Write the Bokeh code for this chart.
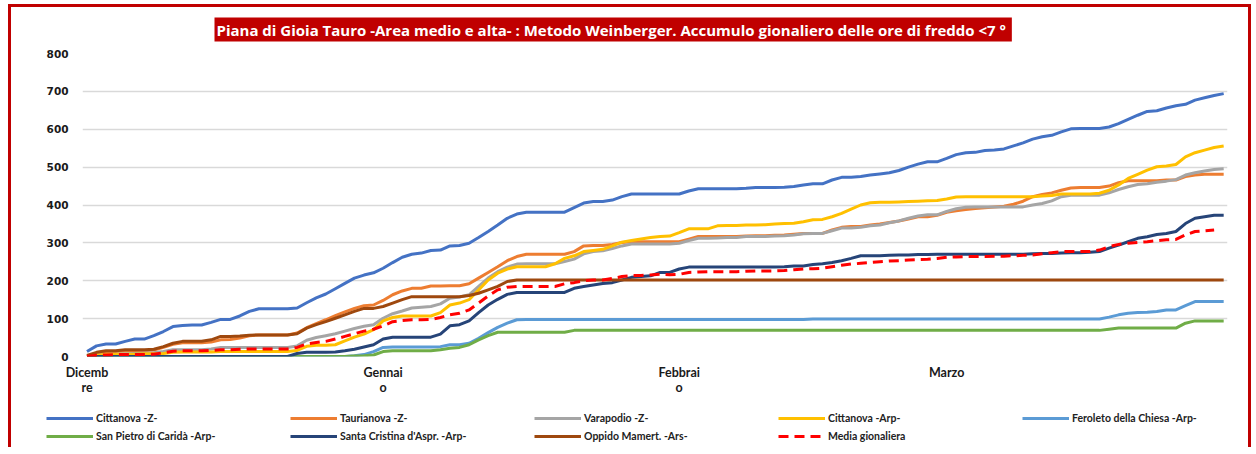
from bokeh.plotting import figure
from bokeh.layouts import column
from bokeh.models import Range1d, FixedTicker, Legend, LegendItem
from bokeh.embed import file_html
from bokeh.resources import INLINE

nan = float("nan")

# giorni dal 1 dicembre (0) al 30 marzo (119)
days = list(range(120))

tick_positions = [0, 31, 62, 90]
tick_labels = ["Dicemb\nre", "Gennai\no", "Febbrai\no", "Marzo"]

cittanova_z = [
    13, 28, 33, 33, 40, 46, 46, 55, 66, 79,
    82, 83, 83, 90, 98, 98, 107, 119, 126, 126,
    126, 126, 128, 142, 155, 165, 179, 193, 207, 215,
    221, 233, 248, 262, 270, 273, 280, 281, 292, 293,
    299, 314, 330, 347, 365, 376, 381, 381, 381, 381,
    381, 393, 405, 409, 409, 413, 422, 429, 429, 429,
    429, 429, 429, 437, 443, 443, 443, 443, 443, 444,
    446, 446, 446, 447, 449, 453, 456, 456, 466, 473,
    473, 475, 479, 482, 485, 491, 500, 508, 514, 514,
    523, 533, 538, 539, 544, 545, 548, 556, 564, 574,
    580, 584, 593, 601, 602, 602, 602, 606, 615, 626,
    637, 647, 649, 656, 662, 666, 677, 683, 689, 694,
]

taurianova_z = [
    1, 8, 12, 13, 15, 15, 15, 17, 24, 32,
    36, 36, 36, 38, 44, 45, 49, 55, 57, 57,
    57, 57, 62, 76, 87, 97, 108, 118, 127, 134,
    136, 148, 163, 173, 180, 180, 186, 186, 187, 187,
    192, 207, 222, 237, 253, 264, 270, 270, 270, 270,
    270, 277, 292, 293, 293, 296, 301, 303, 303, 303,
    303, 303, 303, 310, 317, 317, 317, 317, 317, 318,
    319, 319, 320, 321, 323, 325, 325, 325, 334, 341,
    343, 343, 347, 350, 354, 358, 363, 369, 369, 373,
    381, 385, 388, 391, 393, 395, 397, 402, 410, 422,
    428, 432, 439, 445, 446, 446, 446, 450, 459, 464,
    464, 464, 464, 466, 466, 475, 479, 481, 481, 481,
]

varapodio_z = [
    0, 3, 5, 6, 7, 8, 9, 10, 13, 18,
    18, 18, 18, 20, 24, 24, 24, 24, 24, 24,
    24, 24, 28, 43, 50, 55, 60, 67, 74, 80,
    84, 101, 113, 120, 128, 130, 132, 139, 154, 157,
    163, 185, 207, 224, 236, 244, 245, 245, 245, 245,
    251, 257, 271, 277, 279, 285, 292, 297, 297, 297,
    297, 297, 299, 306, 312, 312, 313, 314, 314, 317,
    317, 317, 318, 319, 321, 324, 325, 325, 332, 339,
    339, 341, 345, 347, 353, 358, 365, 371, 374, 374,
    383, 390, 394, 395, 395, 395, 395, 395, 395, 400,
    404, 411, 422, 426, 426, 426, 426, 432, 441, 448,
    454, 456, 460, 463, 467, 479, 485, 490, 494, 496,
]

cittanova_arp = [
    0, 3, 5, 6, 6, 6, 7, 7, 8, 11,
    12, 12, 12, 12, 13, 13, 13, 13, 13, 13,
    13, 13, 16, 27, 30, 30, 31, 41, 51, 59,
    71, 94, 103, 107, 107, 107, 107, 116, 136, 141,
    150, 176, 202, 220, 231, 237, 237, 237, 237, 245,
    259, 266, 277, 280, 283, 292, 302, 306, 310, 314,
    317, 318, 327, 337, 337, 337, 345, 346, 346, 347,
    347, 348, 350, 351, 352, 356, 361, 362, 369, 378,
    389, 400, 406, 407, 407, 408, 409, 410, 411, 412,
    416, 421, 422, 422, 422, 422, 422, 422, 422, 422,
    424, 425, 429, 429, 429, 429, 431, 439, 453, 470,
    481, 492, 501, 503, 507, 527, 538, 545, 552, 556,
]

feroleto_arp = [
    0, 0, 0, 0, 0, 0, 0, 0, 0, 0,
    0, 0, 0, 0, 0, 0, 0, 0, 0, 0,
    0, 0, 0, 0, 0, 0, 0, 0, 2, 5,
    13, 24, 25, 25, 25, 25, 25, 26, 31, 31,
    35, 48, 63, 77, 88, 97, 98, 98, 98, 98,
    98, 98, 98, 98, 98, 98, 98, 98, 98, 98,
    98, 98, 98, 98, 98, 98, 98, 98, 98, 98,
    98, 98, 98, 98, 98, 98, 99, 99, 99, 99,
    99, 99, 99, 99, 99, 99, 99, 99, 99, 99,
    99, 99, 99, 99, 99, 99, 99, 99, 99, 99,
    99, 99, 99, 99, 99, 99, 99, 104, 110, 114,
    116, 117, 119, 123, 123, 134, 145, 145, 145, 145,
]

san_pietro_arp = [
    0, 0, 0, 0, 0, 0, 0, 0, 0, 0,
    0, 0, 0, 0, 0, 0, 0, 0, 0, 0,
    0, 0, 0, 0, 0, 0, 0, 0, 1, 2,
    4, 13, 15, 15, 15, 15, 15, 18, 22, 24,
    31, 44, 55, 64, 64, 64, 64, 64, 64, 64,
    64, 69, 69, 69, 69, 69, 69, 69, 69, 69,
    69, 69, 69, 69, 69, 69, 69, 69, 69, 69,
    69, 69, 69, 69, 69, 69, 69, 69, 69, 69,
    69, 69, 69, 69, 69, 69, 69, 69, 69, 69,
    69, 69, 69, 69, 69, 69, 69, 69, 69, 69,
    69, 69, 69, 69, 69, 69, 69, 72, 75, 75,
    75, 75, 75, 75, 75, 88, 94, 94, 94, 94,
]

santa_cristina_arp = [
    0, 0, 0, 0, 0, 0, 0, 0, 0, 0,
    0, 0, 0, 0, 0, 0, 0, 0, 0, 0,
    0, 0, 8, 11, 11, 11, 12, 15, 19, 25,
    31, 46, 51, 51, 51, 51, 51, 59, 81, 84,
    94, 116, 136, 151, 164, 169, 169, 169, 169, 169,
    169, 180, 185, 189, 193, 195, 202, 209, 211, 213,
    222, 222, 231, 236, 236, 236, 236, 236, 236, 236,
    236, 236, 236, 237, 239, 239, 243, 245, 248, 253,
    259, 266, 266, 266, 267, 268, 268, 269, 269, 270,
    270, 270, 270, 270, 270, 270, 270, 270, 270, 271,
    272, 272, 273, 274, 274, 275, 277, 286, 294, 303,
    312, 316, 322, 325, 330, 351, 365, 369, 373, 373,
]

oppido_ars = [
    3, 11, 15, 15, 18, 18, 18, 19, 26, 35,
    40, 40, 40, 44, 53, 53, 54, 56, 57, 57,
    57, 57, 60, 75, 84, 92, 101, 110, 119, 127,
    127, 132, 141, 150, 158, 158, 158, 158, 158, 158,
    161, 167, 176, 185, 198, 202, 202, 202, 202, 202,
    202, 202, 202, 202, 202, 202, 202, 202, 202, 202,
    202, 202, 202, 202, 202, 202, 202, 202, 202, 202,
    202, 202, 202, 202, 202, 202, 202, 202, 202, 202,
    202, 202, 202, 202, 202, 202, 202, 202, 202, 202,
    202, 202, 202, 202, 202, 202, 202, 202, 202, 202,
    202, 202, 202, 202, 202, 202, 202, 202, 202, 202,
    202, 202, 202, 202, 202, 202, 202, 202, 202, 202,
]

media = [
    0, 3, 4, 5, 5, 5, 5, 6, 10, 14,
    15, 15, 15, 16, 18, 18, 19, 20, 20, 20,
    20, 20, 24, 33, 37, 40, 46, 53, 60, 67,
    72, 81, 92, 95, 97, 97, 98, 103, 110, 114,
    123, 141, 160, 176, 183, 185, 185, 185, 185, 185,
    192, 195, 200, 202, 202, 206, 211, 214, 214, 215,
    217, 216, 217, 222, 223, 224, 224, 224, 224, 225,
    226, 226, 226, 227, 229, 231, 232, 233, 237, 241,
    244, 246, 248, 250, 252, 253, 255, 256, 257, 259,
    262, 263, 264, 264, 264, 265, 265, 266, 267, 268,
    271, 274, 277, 277, 277, 277, 281, 290, 296, 299,
    301, 303, 306, 308, 309, 321, 330, 332, 334, nan,
]

names = [
    "Cittanova -Z-", "Taurianova -Z-", "Varapodio -Z-", "Cittanova -Arp-",
    "Feroleto della Chiesa -Arp-", "San Pietro di Caridà -Arp-",
    "Santa Cristina d'Aspr. -Arp-", "Oppido Mamert. -Ars-", "Media gionaliera",
]
values = [cittanova_z, taurianova_z, varapodio_z, cittanova_arp, feroleto_arp,
          san_pietro_arp, santa_cristina_arp, oppido_ars, media]
colors = ["#4472C4", "#ED7D31", "#A5A5A5", "#FFC000", "#5B9BD5",
          "#70AD47", "#264478", "#9E480E", "#FF0000"]
dashes = ["solid"] * 8 + ["10 6"]

TITLE = "Piana di Gioia Tauro -Area medio e alta- : Metodo Weinberger. Accumulo gionaliero delle ore di freddo  <7 °"

# ---------------- grafico principale ----------------
p = figure(width=1237, height=393, output_backend="svg", toolbar_location=None,
           x_range=Range1d(-0.47, 119.4), y_range=Range1d(0, 800),
           min_border_left=71, min_border_right=21, min_border_top=46,
           min_border_bottom=44)
p.outline_line_color = None
p.background_fill_color = "white"
p.border_fill_color = "white"

p.title.text = TITLE
p.title.align = "left"
p.title.offset = 132
p.title.standoff = 20
p.title.vertical_align = "top"
p.title.text_color = "white"
p.title.text_font = "Open Sans"
p.title.text_font_size = "15px"
p.title.text_font_style = "bold"
p.title.background_fill_color = "#C00000"
p.title.padding = 2

p.xgrid.grid_line_color = None
p.ygrid.grid_line_color = "#D9D9D9"
p.ygrid.grid_line_width = 1.3

p.yaxis.ticker = FixedTicker(ticks=[0, 100, 200, 300, 400, 500, 600, 700, 800])
p.yaxis.axis_line_color = None
p.yaxis.major_tick_line_color = None
p.yaxis.minor_tick_line_color = None
p.yaxis.major_label_text_font = "DejaVu Sans"
p.yaxis.major_label_text_font_style = "bold"
p.yaxis.major_label_text_font_size = "10.5px"
p.yaxis.major_label_text_color = "#1a1a1a"
p.yaxis.major_label_standoff = 8

p.xaxis.ticker = FixedTicker(ticks=tick_positions)
p.xaxis.major_label_overrides = {t: l for t, l in zip(tick_positions, tick_labels)}
p.xaxis.axis_line_color = None
p.xaxis.major_tick_line_color = None
p.xaxis.minor_tick_line_color = None
p.xaxis.major_label_text_font = "Lato"
p.xaxis.major_label_text_font_style = "bold"
p.xaxis.major_label_text_font_size = "12.5px"
p.xaxis.major_label_text_line_height = 1.0
p.xaxis.major_label_text_color = "#1a1a1a"
p.xaxis.major_label_standoff = 2

for name, vals, col, dash in zip(names, values, colors, dashes):
    p.line(days, vals, line_color=col, line_width=3, line_dash=dash)

# ---------------- legenda (figura separata sotto) ----------------
pl = figure(width=1237, height=47, output_backend="svg", toolbar_location=None,
            x_axis_location=None, y_axis_location=None,
            x_range=Range1d(0, 119), y_range=Range1d(-2000, -1000),
            min_border=0)
if "frame_align" in pl.properties():
    pl.frame_align = False
pl.outline_line_color = None
pl.grid.visible = False
pl.background_fill_color = "white"
pl.border_fill_color = "white"

items = []
for name, vals, col, dash in zip(names, values, colors, dashes):
    # le linee stanno fuori dall'area visibile: servono solo per i campioni della legenda
    r = pl.line(days, vals, line_color=col, line_width=3, line_dash=dash)
    items.append(LegendItem(label=name, renderers=[r]))

legend = Legend(items=items, orientation="horizontal", ncols=5,
                location=(35, 3), padding=0, margin=0, spacing=2,
                glyph_width=47, glyph_height=16, label_height=16,
                label_width=192, label_standoff=3,
                label_text_font="Lato", label_text_font_style="bold",
                label_text_font_size="10.5px", label_text_color="#222222",
                background_fill_alpha=0, border_line_color=None)
pl.add_layout(legend)

layout = column(p, pl, spacing=0)
layout.styles = {"margin-left": "8px", "margin-top": "4px",
                 "border-top": "3px solid #C00000", "border-left": "3px solid #C00000",
                 "border-right": "3px solid #C00000"}

open("out.html", "w").write(file_html(layout, INLINE))
